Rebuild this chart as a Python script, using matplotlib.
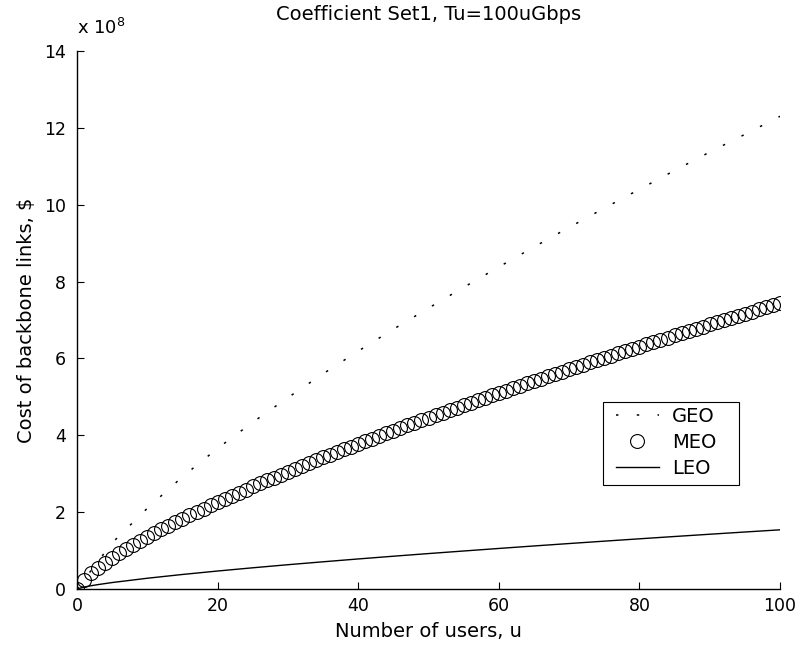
import matplotlib
matplotlib.use("Agg")
import matplotlib.pyplot as plt
from matplotlib.patches import Rectangle

plt.rcParams['font.family'] = ['DejaVu Sans']

# Number of users
users = list(range(0, 101))

# Cost of backbone links in units of 1e8 $
geo_u = [0, 5, 10, 15, 20, 25, 30, 35, 40, 45, 50, 55, 60, 65, 70, 75, 80, 85, 90, 95, 100]
geo_cost = [0.0, 1.20, 2.10, 2.92, 3.66, 4.34, 4.98, 5.60, 6.19, 6.76, 7.31, 7.85,
            8.38, 8.90, 9.41, 9.91, 10.40, 10.89, 11.37, 11.83, 12.30]

meo_cost = [0.000, 0.246, 0.411, 0.556, 0.687, 0.811, 0.928, 1.040, 1.148, 1.252,
            1.354, 1.453, 1.550, 1.644, 1.737, 1.828, 1.917, 2.005, 2.092, 2.177,
            2.261, 2.344, 2.427, 2.508, 2.589, 2.668, 2.747, 2.824, 2.901, 2.977,
            3.053, 3.127, 3.201, 3.275, 3.348, 3.422, 3.494, 3.565, 3.637, 3.708,
            3.777, 3.846, 3.915, 3.984, 4.053, 4.122, 4.189, 4.255, 4.322, 4.388,
            4.455, 4.521, 4.585, 4.652, 4.716, 4.780, 4.844, 4.908, 4.972, 5.036,
            5.098, 5.162, 5.224, 5.288, 5.349, 5.411, 5.473, 5.534, 5.593, 5.655,
            5.716, 5.776, 5.837, 5.896, 5.956, 6.015, 6.074, 6.133, 6.192, 6.251,
            6.308, 6.367, 6.426, 6.483, 6.540, 6.599, 6.655, 6.712, 6.769, 6.825,
            6.884, 6.939, 6.995, 7.052, 7.109, 7.165, 7.220, 7.276, 7.330, 7.387,
            7.441]

leo_u = [0, 1, 2, 3, 5, 10, 15, 20, 25, 30, 35, 40, 45, 50, 55, 60, 65, 70, 75, 80, 85, 90, 95, 100]
leo_cost = [0.0, 0.051, 0.085, 0.115, 0.168, 0.280, 0.378, 0.468, 0.552, 0.632, 0.708,
            0.782, 0.853, 0.922, 0.989, 1.055, 1.120, 1.183, 1.245, 1.306, 1.366,
            1.425, 1.483, 1.540]

x_ticks = [0, 20, 40, 60, 80, 100]
y_ticks = [0, 2, 4, 6, 8, 10, 12, 14]

W, H = 802, 649
fig = plt.figure(figsize=(W / 100, H / 100), dpi=100)
ax = fig.add_axes([77 / W, 1 - 589 / H, (780 - 77) / W, (589 - 51) / H])

ax.plot(geo_u, geo_cost, color='black', linewidth=1.1,
        linestyle=(0, (1.6, 12.0)), label='GEO')
ax.plot(users, meo_cost, linestyle='none', marker='o', markersize=10,
        markerfacecolor='none', markeredgecolor='black', markeredgewidth=0.8,
        label='MEO')
ax.plot(leo_u, leo_cost, color='black', linewidth=1.0, label='LEO')

ax.set_xlim(0, 100)
ax.set_ylim(0, 14)
ax.set_xticks(x_ticks)
ax.set_yticks(y_ticks)
ax.tick_params(direction='in', length=5, width=0.8, labelsize=12.5)
ax.tick_params(axis='y', pad=8)
ax.tick_params(axis='x', pad=6)
ax.spines['top'].set_visible(False)
ax.spines['right'].set_visible(False)
for s in ('left', 'bottom'):
    ax.spines[s].set_linewidth(1.0)

ax.set_title('Coefficient Set1, Tu=100uGbps', fontsize=14, pad=22)
ax.set_xlabel('Number of users, u', fontsize=14, labelpad=5)
ax.set_ylabel('Cost of backbone links, $', fontsize=14, labelpad=6)
ax.text(0.0, 1.025, r'x 10$^{8}$', transform=ax.transAxes, fontsize=13,
        ha='left', va='bottom')

# Legend entries without their own frame; the box is drawn separately
leg = ax.legend(loc='upper left', bbox_to_anchor=(616 / W, 1 - 407 / H),
                bbox_transform=fig.transFigure, frameon=False,
                fontsize=14, handlelength=2.2, borderpad=0.0,
                labelspacing=0.35, handletextpad=0.68, borderaxespad=0)
fig.add_artist(Rectangle((603 / W, 1 - 485 / H), 136 / W, 83 / H,
                         transform=fig.transFigure, fill=False,
                         edgecolor='black', linewidth=0.8))

fig.savefig('out.png', dpi=100)
